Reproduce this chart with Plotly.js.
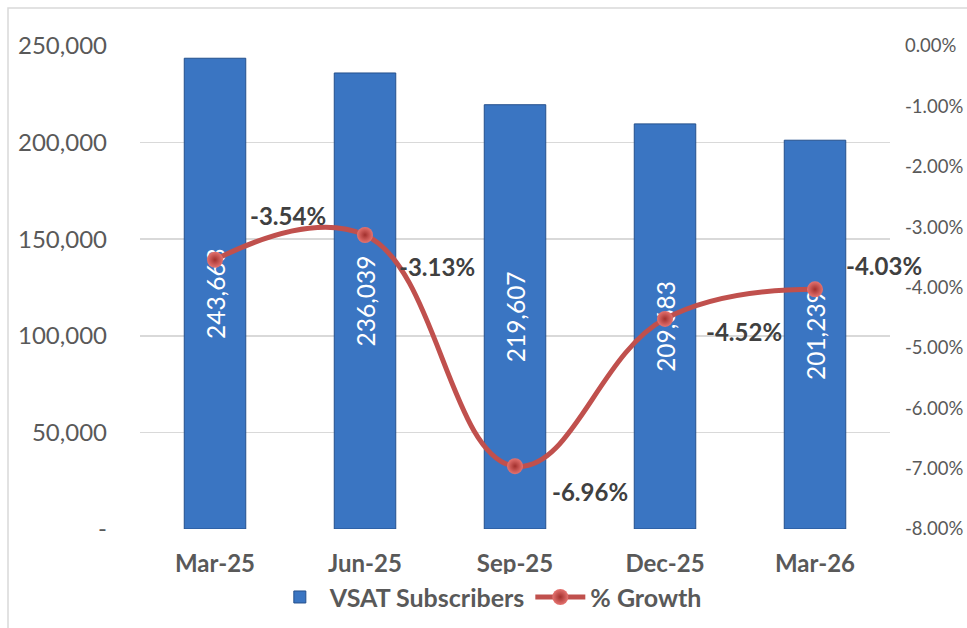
<!DOCTYPE html>
<html>
<head>
<meta charset="utf-8">
<script src="https://cdn.plot.ly/plotly-3.0.1.min.js"></script>
<style>
html,body{margin:0;padding:0;background:#fff;}
#chart{width:967px;height:628px;}
</style>
</head>
<body>
<div id="chart"></div>
<script>
var categories = ['Mar-25', 'Jun-25', 'Sep-25', 'Dec-25', 'Mar-26'];
var subscribers = [243663, 236039, 219607, 209683, 201239];
var growthPct = [-3.54, -3.13, -6.96, -4.52, -4.03];
var leftTickVals = [0, 50000, 100000, 150000, 200000, 250000];
var leftTickText = ['-', '50,000', '100,000', '150,000', '200,000', '250,000'];
var rightTickVals = [0, -1, -2, -3, -4, -5, -6, -7, -8];
var rightTickText = ['0.00%', '-1.00%', '-2.00%', '-3.00%', '-4.00%', '-5.00%', '-6.00%', '-7.00%', '-8.00%'];
var seriesNames = ['VSAT Subscribers', '% Growth'];

// label offsets (px) for growth labels
var growthShiftX = [73, 72, 75, 79, 69];
var growthShiftY = [44, -32, -25, -13, 24];

var FONT = 'Lato, "Open Sans", sans-serif';

var barTrace = {
  type: 'bar',
  name: seriesNames[0],
  x: categories,
  y: subscribers,
  width: 0.41,
  marker: {color: '#3A75C2', line: {color: '#24508C', width: 1}},
  text: subscribers.map(function(v){ return v.toLocaleString('en-US'); }),
  textposition: 'inside',
  insidetextanchor: 'middle',
  textangle: -90,
  constraintext: 'none',
  textfont: {family: FONT, size: 24.5, color: '#FFFFFF'},
  hoverinfo: 'none'
};

var lineTrace = {
  type: 'scatter',
  mode: 'lines+markers',
  name: seriesNames[1],
  x: categories,
  y: growthPct,
  yaxis: 'y2',
  line: {color: '#C0504D', width: 5, shape: 'spline', smoothing: 1.2},
  marker: {size: 16, color: '#E57370', gradient: {type: 'radial', color: '#A2302D'}, line: {width: 0}},
  hoverinfo: 'none'
};

var annotations = categories.map(function(c, i){
  return {
    x: c, y: growthPct[i], xref: 'x', yref: 'y2',
    text: growthPct[i].toFixed(2) + '%',
    showarrow: false,
    xshift: growthShiftX[i], yshift: growthShiftY[i],
    font: {family: FONT, size: 24, color: '#404040', weight: 'bold'}
  };
});

var layout = {
  width: 967, height: 628,
  margin: {l: 140, r: 77, t: 46, b: 99},
  paper_bgcolor: '#FFFFFF',
  plot_bgcolor: '#FFFFFF',
  font: {family: FONT, color: '#595959'},
  bargap: 0.59,
  showlegend: true,
  legend: {
    orientation: 'h',
    xref: 'container', yref: 'container',
    x: 0.505, xanchor: 'center', y: 0.049, yanchor: 'middle',
    font: {family: FONT, size: 25, color: '#595959', weight: 'bold'},
    itemwidth: 50, tracegroupgap: 0
  },
  xaxis: {
    type: 'category',
    range: [-0.5, 4.5],
    showgrid: false, zeroline: false, showline: false,
    ticks: '', ticklabelstandoff: 18,
    tickfont: {family: FONT, size: 24, color: '#595959', weight: 'bold'},
    fixedrange: true
  },
  yaxis: {
    range: [0, 250000],
    tickvals: leftTickVals, ticktext: leftTickText,
    showgrid: true, gridcolor: '#D9D9D9', gridwidth: 1.5,
    zeroline: false, showline: false, ticks: '',
    ticklabelstandoff: 32,
    tickfont: {family: FONT, size: 24, color: '#595959'},
    fixedrange: true
  },
  yaxis2: {
    overlaying: 'y', side: 'right',
    range: [-8, 0],
    tickvals: rightTickVals, ticktext: rightTickText,
    showgrid: false, zeroline: false, showline: false, ticks: '',
    ticklabelstandoff: 14,
    tickfont: {family: FONT, size: 18.5, color: '#595959'},
    fixedrange: true
  },
  annotations: annotations,
  shapes: [{
    type: 'rect', xref: 'paper', yref: 'paper',
    x0: -0.176, x1: 1.12, y0: -0.25, y1: 1.0787,
    line: {color: '#D9D9D9', width: 1.5}, fillcolor: 'rgba(0,0,0,0)', layer: 'below'
  }]
};

Plotly.newPlot('chart', [barTrace, lineTrace], layout, {displayModeBar: false, staticPlot: true});
</script>
</body>
</html>
